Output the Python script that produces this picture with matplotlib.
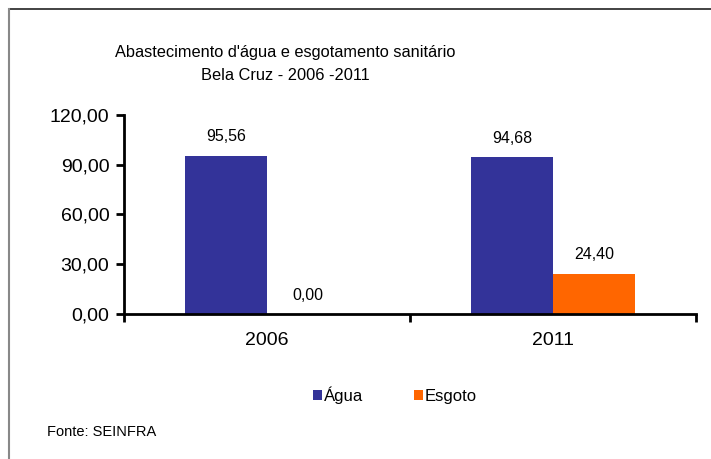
import numpy as np
import matplotlib.pyplot as plt
from matplotlib.lines import Line2D

# data
years = ['2006', '2011']
agua = [95.56, 94.68]
esgoto = [0.00, 24.40]
y_ticks = [0, 30, 60, 90, 120]

c_agua = '#333399'
c_esgoto = '#FF6600'
plt.rcParams['font.family'] = ['Liberation Sans', 'DejaVu Sans']

fig = plt.figure(figsize=(7.11, 4.59), dpi=100)
ax = fig.add_axes([0.1744, 0.3159, 0.8046, 0.4336])

x = np.arange(len(years))
w = 0.2867
b1 = ax.bar(x - w / 2, agua, w, color=c_agua, label='Água')
b2 = ax.bar(x + w / 2, esgoto, w, color=c_esgoto, label='Esgoto')

def fmt(v):
    return f'{v:.2f}'.replace('.', ',')

ax.bar_label(b1, labels=[fmt(v) for v in agua], padding=8, fontsize=11.5)
ax.bar_label(b2, labels=[fmt(v) for v in esgoto], padding=8, fontsize=11.5)

ax.set_xlim(-0.5, len(years) - 0.5)
ax.set_ylim(0, 120)
ax.set_yticks(y_ticks)
ax.set_yticklabels([fmt(v) for v in y_ticks], fontsize=14)
ax.set_xticks(x)
ax.set_xticklabels(years, fontsize=14)
ax.set_xticks(np.arange(len(years) + 1) - 0.5, minor=True)
ax.tick_params(axis='x', which='major', length=0, pad=13)
ax.tick_params(axis='x', which='minor', length=6, width=2, direction='out')
ax.tick_params(axis='y', length=6, width=2, pad=4.5)

for s in ['top', 'right']:
    ax.spines[s].set_visible(False)
for s in ['left', 'bottom']:
    ax.spines[s].set_linewidth(2)

fig.text(0.401, 0.861, "Abastecimento d'água e esgotamento sanitário\nBela Cruz - 2006 -2011",
         ha='center', va='center', fontsize=11.8, linespacing=1.65)

fig.legend(handles=[b1, b2], loc='center', bbox_to_anchor=(0.555, 0.139), ncol=2,
           frameon=False, fontsize=12, handlelength=0.55, handleheight=0.55,
           handletextpad=0.1, columnspacing=3.06)

fig.text(0.066, 0.059, 'Fonte: SEINFRA', fontsize=10.5, va='center')

# outer frame
fig.add_artist(Line2D([0.0127, 1.0], [0.980, 0.980], transform=fig.transFigure,
                      color='#222222', lw=1.2))
fig.add_artist(Line2D([0.0127, 0.0127], [0.980, 0.0], transform=fig.transFigure,
                      color='#888888', lw=1.5))

fig.savefig('out.png', dpi=100)
